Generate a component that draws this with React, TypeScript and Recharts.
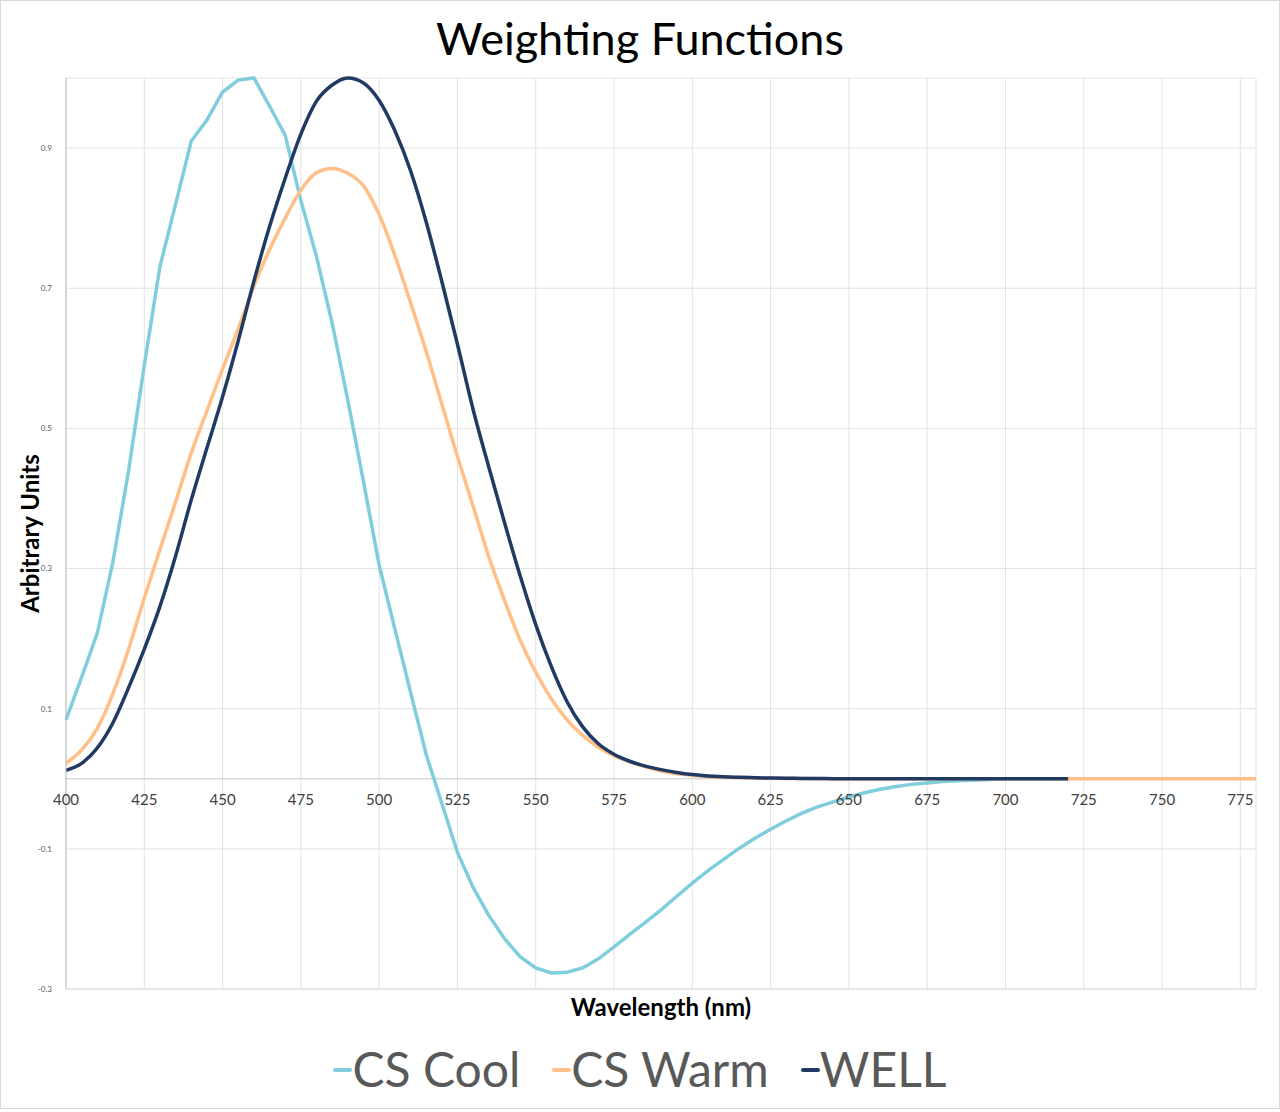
import React from "react";
import {
  CartesianGrid,
  Label,
  Legend,
  Line,
  LineChart,
  ReferenceLine,
  XAxis,
  YAxis,
} from "recharts";

const FONT = "Lato, 'Noto Sans', sans-serif";

const WAVELENGTHS = [
  400, 405, 410, 415, 420, 425, 430, 435, 440, 445, 450, 455, 460, 465, 470,
  475, 480, 485, 490, 495, 500, 505, 510, 515, 520, 525, 530, 535, 540, 545,
  550, 555, 560, 565, 570, 575, 580, 585, 590, 595, 600, 605, 610, 615, 620,
  625, 630, 635, 640, 645, 650, 655, 660, 665, 670, 675, 680, 685, 690, 695,
  700, 705, 710, 715, 720, 725, 730, 735, 740, 745, 750, 755, 760, 765, 770,
  775, 780,
];

// 400..720, nothing after
const CS_COOL = [
  0.084, 0.145, 0.208, 0.31, 0.44, 0.59, 0.731, 0.82, 0.91, 0.94, 0.98, 0.997,
  1.0, 0.96, 0.918, 0.825, 0.745, 0.65, 0.54, 0.424, 0.305, 0.214, 0.124,
  0.035, -0.035, -0.105, -0.155, -0.195, -0.228, -0.254, -0.27, -0.277, -0.276,
  -0.27, -0.257, -0.24, -0.222, -0.205, -0.187, -0.168, -0.149, -0.131, -0.115,
  -0.099, -0.085, -0.072, -0.06, -0.049, -0.04, -0.033, -0.026, -0.02, -0.015,
  -0.011, -0.008, -0.006, -0.004, -0.003, -0.002, -0.001, -0.0005, 0, 0, 0, 0,
];

// 400..780
const CS_WARM = [
  0.022, 0.041, 0.072, 0.122, 0.185, 0.258, 0.327, 0.395, 0.465, 0.525, 0.585,
  0.642, 0.703, 0.755, 0.8, 0.84, 0.865, 0.871, 0.864, 0.846, 0.805, 0.747,
  0.68, 0.61, 0.535, 0.46, 0.389, 0.317, 0.255, 0.198, 0.152, 0.114, 0.084,
  0.062, 0.045, 0.033, 0.024, 0.017, 0.011, 0.007, 0.005, 0.003, 0.002, 0.0015,
  0.001, 0.0007, 0.0005, 0.0003, 0.0002, 0.0001, 0, 0, 0, 0, 0, 0, 0, 0, 0, 0,
  0, 0, 0, 0, 0, 0, 0, 0, 0, 0, 0, 0, 0, 0, 0, 0, 0,
];

// 400..720
const WELL = [
  0.012, 0.022, 0.044, 0.08, 0.13, 0.185, 0.246, 0.318, 0.398, 0.472, 0.545,
  0.625, 0.71, 0.788, 0.857, 0.92, 0.967, 0.99, 1.0, 0.993, 0.968, 0.925,
  0.868, 0.795, 0.71, 0.62, 0.527, 0.445, 0.366, 0.29, 0.22, 0.16, 0.11,
  0.074, 0.05, 0.035, 0.025, 0.018, 0.013, 0.009, 0.006, 0.004, 0.003, 0.002,
  0.0015, 0.001, 0.0007, 0.0005, 0.0003, 0.0002, 0.0001, 0, 0, 0, 0, 0, 0, 0,
  0, 0, 0, 0, 0, 0, 0,
];

const X_TICKS = [
  400, 425, 450, 475, 500, 525, 550, 575, 600, 625, 650, 675, 700, 725, 750,
  775,
];
const Y_TICKS = [-0.3, -0.1, 0.1, 0.3, 0.5, 0.7, 0.9];
const Y_MIN = -0.3;
const Y_MAX = 1.0;

// cool keeps its straight segments, the other two are drawn smooth
const SERIES = [
  { key: "cool", name: "CS Cool", color: "#7fcddd", curve: "linear" },
  { key: "warm", name: "CS Warm", color: "#ffbf87", curve: "monotone" },
  { key: "well", name: "WELL", color: "#213a63", curve: "monotone" },
];

const data = WAVELENGTHS.map((wl, i) => ({
  wl,
  cool: CS_COOL[i] ?? null,
  warm: CS_WARM[i] ?? null,
  well: WELL[i] ?? null,
}));

const W = 1280;
const H = 1112;
const PLOT_TOP = 78;
const PLOT_BOTTOM = 989;
// distance from the bottom axis up to the zero line
const ZERO_LIFT =
  ((PLOT_BOTTOM - PLOT_TOP) * (0 - Y_MIN)) / (Y_MAX - Y_MIN);

function XTick({ x, payload }: any) {
  return (
    <text
      x={x}
      y={PLOT_BOTTOM - ZERO_LIFT + 26}
      textAnchor="middle"
      fontSize={15}
      fill="#404040"
      fontFamily={FONT}
    >
      {payload.value}
    </text>
  );
}

function XTitle({ viewBox }: any) {
  return (
    <text
      x={viewBox.x + viewBox.width / 2}
      y={viewBox.y + 27}
      textAnchor="middle"
      fontSize={24}
      fontWeight={700}
      fill="#000"
      fontFamily={FONT}
    >
      Wavelength (nm)
    </text>
  );
}

function YTitle({ viewBox }: any) {
  const cx = viewBox.x + 23;
  const cy = viewBox.y + viewBox.height / 2;
  return (
    <text
      x={cx}
      y={cy}
      transform={`rotate(-90, ${cx}, ${cy})`}
      textAnchor="middle"
      dominantBaseline="central"
      fontSize={24}
      fontWeight={700}
      fill="#000"
      fontFamily={FONT}
    >
      Arbitrary Units
    </text>
  );
}

function LegendRow({ payload }: any) {
  return (
    <div
      style={{
        display: "flex",
        justifyContent: "center",
        gap: 32,
        fontFamily: FONT,
        fontSize: 48,
        lineHeight: "58px",
        color: "#595959",
      }}
    >
      {(payload || []).map((p: any) => (
        <span key={p.value} style={{ display: "flex", alignItems: "center" }}>
          <span
            style={{
              display: "inline-block",
              width: 19,
              height: 4,
              borderRadius: 2,
              background: p.color,
              marginTop: 2,
            }}
          />
          {p.value}
        </span>
      ))}
    </div>
  );
}

export default function App() {
  return (
    <div
      style={{
        position: "relative",
        width: W,
        height: H,
        background: "#fff",
        fontFamily: FONT,
      }}
    >
      <style>{"body{margin:0}"}</style>
      <div
        style={{
          position: "absolute",
          inset: 0,
          bottom: 3,
          border: "1px solid #d9d9d9",
          pointerEvents: "none",
        }}
      />
      <div
        style={{
          position: "absolute",
          top: 14,
          left: 0,
          width: W,
          textAlign: "center",
          fontSize: 45,
          lineHeight: "48px",
          color: "#000",
        }}
      >
        Weighting Functions
      </div>
      <LineChart
        width={W}
        height={H}
        data={data}
        margin={{ top: PLOT_TOP, right: 24, left: 6, bottom: 83 }}
        style={{ fontFamily: FONT }}
      >
        <CartesianGrid stroke="#e2e2e2" strokeWidth={1} />
        <XAxis
          dataKey="wl"
          type="number"
          domain={[400, 780]}
          ticks={X_TICKS}
          height={40}
          tickLine={false}
          axisLine={{ stroke: "#d9d9d9" }}
          tick={<XTick />}
          interval={0}
        >
          <Label content={<XTitle />} />
        </XAxis>
        <YAxis
          type="number"
          domain={[Y_MIN, Y_MAX]}
          ticks={Y_TICKS}
          width={60}
          tickLine={false}
          axisLine={{ stroke: "#bfbfbf" }}
          tickMargin={8}
          tick={{ fontSize: 8, fill: "#595959" }}
          interval={0}
        >
          <Label content={<YTitle />} />
        </YAxis>
        <ReferenceLine y={0} stroke="#c6c6c6" strokeWidth={1} />
        {SERIES.map((s) => (
          <Line
            key={s.key}
            dataKey={s.key}
            name={s.name}
            type={s.curve as any}
            stroke={s.color}
            strokeWidth={3.5}
            dot={false}
            activeDot={false}
            isAnimationActive={false}
          />
        ))}
        <Legend
          verticalAlign="middle"
          align="center"
          layout="horizontal"
          content={<LegendRow />}
          wrapperStyle={{ top: 1040, left: 0, width: W }}
        />
      </LineChart>
    </div>
  );
}
